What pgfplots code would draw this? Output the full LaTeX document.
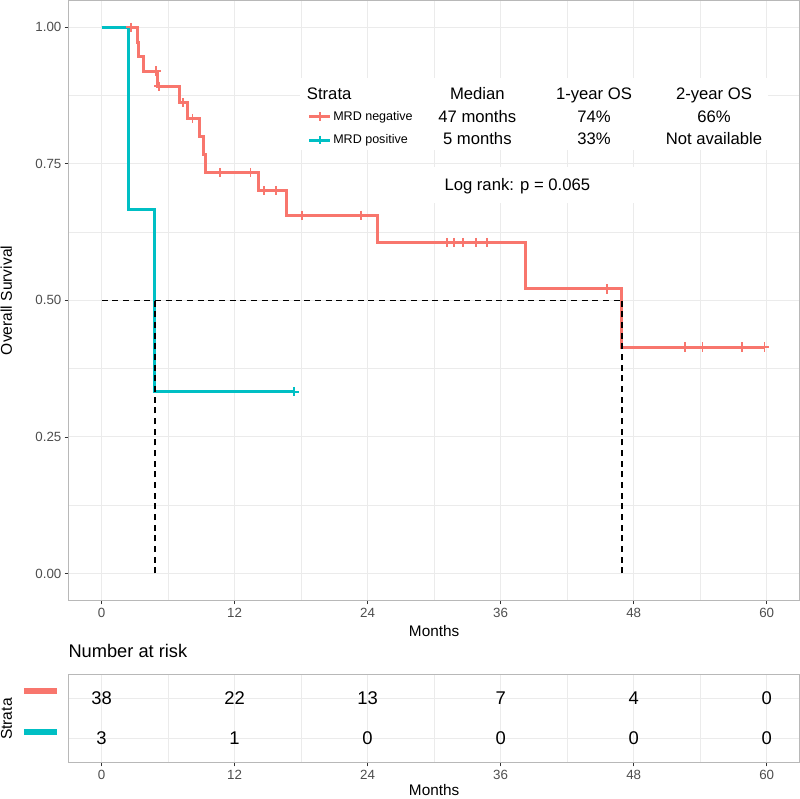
\documentclass[border=0pt]{standalone}
\usepackage{fontspec}
\setmainfont{Liberation Sans}
\usepackage{pgfplots}
\pgfplotsset{compat=1.18}
\usepackage{pgfplotstable}
\definecolor{redc}{HTML}{F8766D}
\definecolor{tealc}{HTML}{00BFC4}
\definecolor{gridc}{HTML}{EBEBEB}
\definecolor{borderc}{HTML}{B8B8B8}
\definecolor{tickc}{HTML}{4D4D4D}
\definecolor{tickmc}{HTML}{333333}

\pgfplotstableread{
t s
0 1
3.22 0.972
3.30 0.946
3.76 0.920
5.05 0.892
7.00 0.862
7.76 0.833
8.81 0.800
9.23 0.767
9.41 0.734
14.13 0.701
16.69 0.656
24.90 0.606
38.20 0.521
46.92 0.4145
59.80 0.4145
}\redcurve

\pgfplotstableread{
t s
2.64 1
4.90 0.920
5.17 0.892
7.37 0.862
8.21 0.833
10.67 0.734
13.44 0.734
14.64 0.701
15.72 0.701
18.10 0.656
23.40 0.656
31.19 0.606
31.79 0.606
32.63 0.606
33.77 0.606
34.79 0.606
45.56 0.521
52.60 0.4145
54.20 0.4145
57.80 0.4145
59.80 0.4145
}\redcens

\pgfplotstableread{
t s
0 1
2.40 0.667
4.80 0.333
17.35 0.333
}\tealcurve

\pgfplotstableread{
t s
17.35 0.333
}\tealcens

\pgfplotstableread{
x y label
0 1 38
12 1 22
24 1 13
36 1 7
48 1 4
60 1 0
0 2 3
12 2 1
24 2 0
36 2 0
48 2 0
60 2 0
}\risk

\pgfplotsset{
  common/.style={
    scale only axis, width=548.8pt, xmin=-3, xmax=63,
    xtick={0,12,24,36,48,60}, xticklabels={0,12,24,36,48,60},
    minor xtick={6,18,30,42,54},
    grid=both,
    major grid style={gridc, line width=0.8pt},
    minor grid style={gridc, line width=0.4pt},
    axis line style={borderc, line width=0.8pt},
    tick align=outside, tick pos=left,
    major tick length=2.8pt, minor tick length=0pt,
    major tick style={tickmc, line width=0.6pt},
    tick label style={font=\fontsize{10}{11}\selectfont, color=tickc, inner sep=0pt},
    xticklabel style={yshift=-2.6pt},
    yticklabel style={xshift=-2.2pt},
    /pgf/number format/assume math mode=true,
    x label style={font=\fontsize{11.5}{13}\selectfont, at={(axis description cs:0.5,0)}, anchor=center, yshift=-22.5pt},
    y label style={font=\fontsize{11.7}{13}\selectfont, at={(axis description cs:-0.0847,0.5)}, anchor=center},
  },
  legend image code/.code={%
    \draw[#1, mark=none] (0pt,0pt) -- (16pt,0pt);
    \draw[#1, mark=+, mark size=3.3pt, mark options={line width=1.4pt}] plot coordinates {(8pt,0pt)};
  },
}

\begin{document}
\begin{tikzpicture}
\useasboundingbox (0,0) rectangle (600pt,599.25pt);
\begin{axis}[common,
  at={(51.2pt,148.7pt)}, anchor=south west, height=450.5pt,
  ymin=-0.05, ymax=1.05,
  ytick={0,0.25,0.5,0.75,1}, yticklabels={0.00,0.25,0.50,0.75,1.00},
  minor ytick={0.125,0.375,0.625,0.875},
  xlabel={Months}, ylabel={Overall Survival},
  legend style={at={(axis description cs:0.3272,0.7863)}, anchor=west, draw=none, fill=none,
    inner sep=0pt, outer sep=0pt, row sep=6.5pt,
    nodes={inner sep=1pt, text height=7pt, text depth=2pt},
    font=\fontsize{9.4}{11}\selectfont},
  legend cell align=left,
]
\fill[white] (axis cs:17.9,0.7753) rectangle (axis cs:60.12,0.9071);
\fill[white] (axis cs:26.73,0.6782) rectangle (axis cs:48.29,0.7441);
\addplot[redc, line width=2.2pt, const plot, mark=none] table[x=t,y=s] {\redcurve};
\addlegendentry{MRD negative}
\addplot[redc, only marks, mark=+, mark size=3.5pt, mark options={line width=1.4pt}, forget plot] table[x=t,y=s] {\redcens};
\addplot[tealc, line width=2.2pt, const plot, mark=none] table[x=t,y=s] {\tealcurve};
\addlegendentry{MRD positive}
\addplot[tealc, only marks, mark=+, mark size=3.5pt, mark options={line width=1.4pt}, forget plot] table[x=t,y=s] {\tealcens};
\addplot[black, line width=1.3pt, dash pattern=on 4.5pt off 3.5pt, forget plot] coordinates {(0,0.5) (46.92,0.5)};
\addplot[black, line width=1.3pt, dash pattern=on 4.5pt off 3.5pt, forget plot] coordinates {(4.8,0) (4.8,0.5)};
\addplot[black, line width=1.3pt, dash pattern=on 4.5pt off 3.5pt, forget plot] coordinates {(46.92,0) (46.92,0.5)};
\end{axis}

\begin{axis}[common,
  at={(51.2pt,27.2pt)}, anchor=south west, height=66.2pt,
  ymin=0.4, ymax=2.6, y dir=reverse,
  ytick={1,2}, yticklabels={\textcolor{redc}{\rule{25pt}{4.5pt}},\textcolor{tealc}{\rule{25pt}{4.5pt}}},
  ytick style={draw=none},
  yticklabel style={xshift=-3pt, yshift=5.3pt},
  xlabel={Months}, ylabel={Strata},
  x label style={yshift=1.8pt},
  y label style={at={(axis description cs:-0.0843,0.494)}},
  title={Number at risk},
  title style={at={(axis description cs:0,1)}, anchor=base west, yshift=7pt, inner sep=0pt, font=\fontsize{13.7}{15}\selectfont},
]
\addplot[draw=none, mark=none, nodes near coords, point meta=explicit symbolic,
  every node near coord/.append style={anchor=center, font=\fontsize{13.8}{15}\selectfont, black}]
  table[x=x, y=y, meta=label] {\risk};
\end{axis}

\begin{scope}[every node/.style={font=\fontsize{12.5}{14}\selectfont, anchor=base, inner sep=0pt}]
\node[anchor=base west] at (230pt,524.8pt) {Strata};
\node at (358pt,524.8pt) {Median};
\node at (445.5pt,524.8pt) {1-year OS};
\node at (535.5pt,524.8pt) {2-year OS};
\node at (358pt,507.5pt) {47 months};
\node at (445.5pt,507.5pt) {74\%};
\node at (535.5pt,507.5pt) {66\%};
\node at (358pt,491pt) {5 months};
\node at (445.5pt,491pt) {33\%};
\node at (535.5pt,491pt) {Not available};
\node at (388pt,456pt) {Log rank: p = 0.065};
\end{scope}
\end{tikzpicture}
\end{document}
